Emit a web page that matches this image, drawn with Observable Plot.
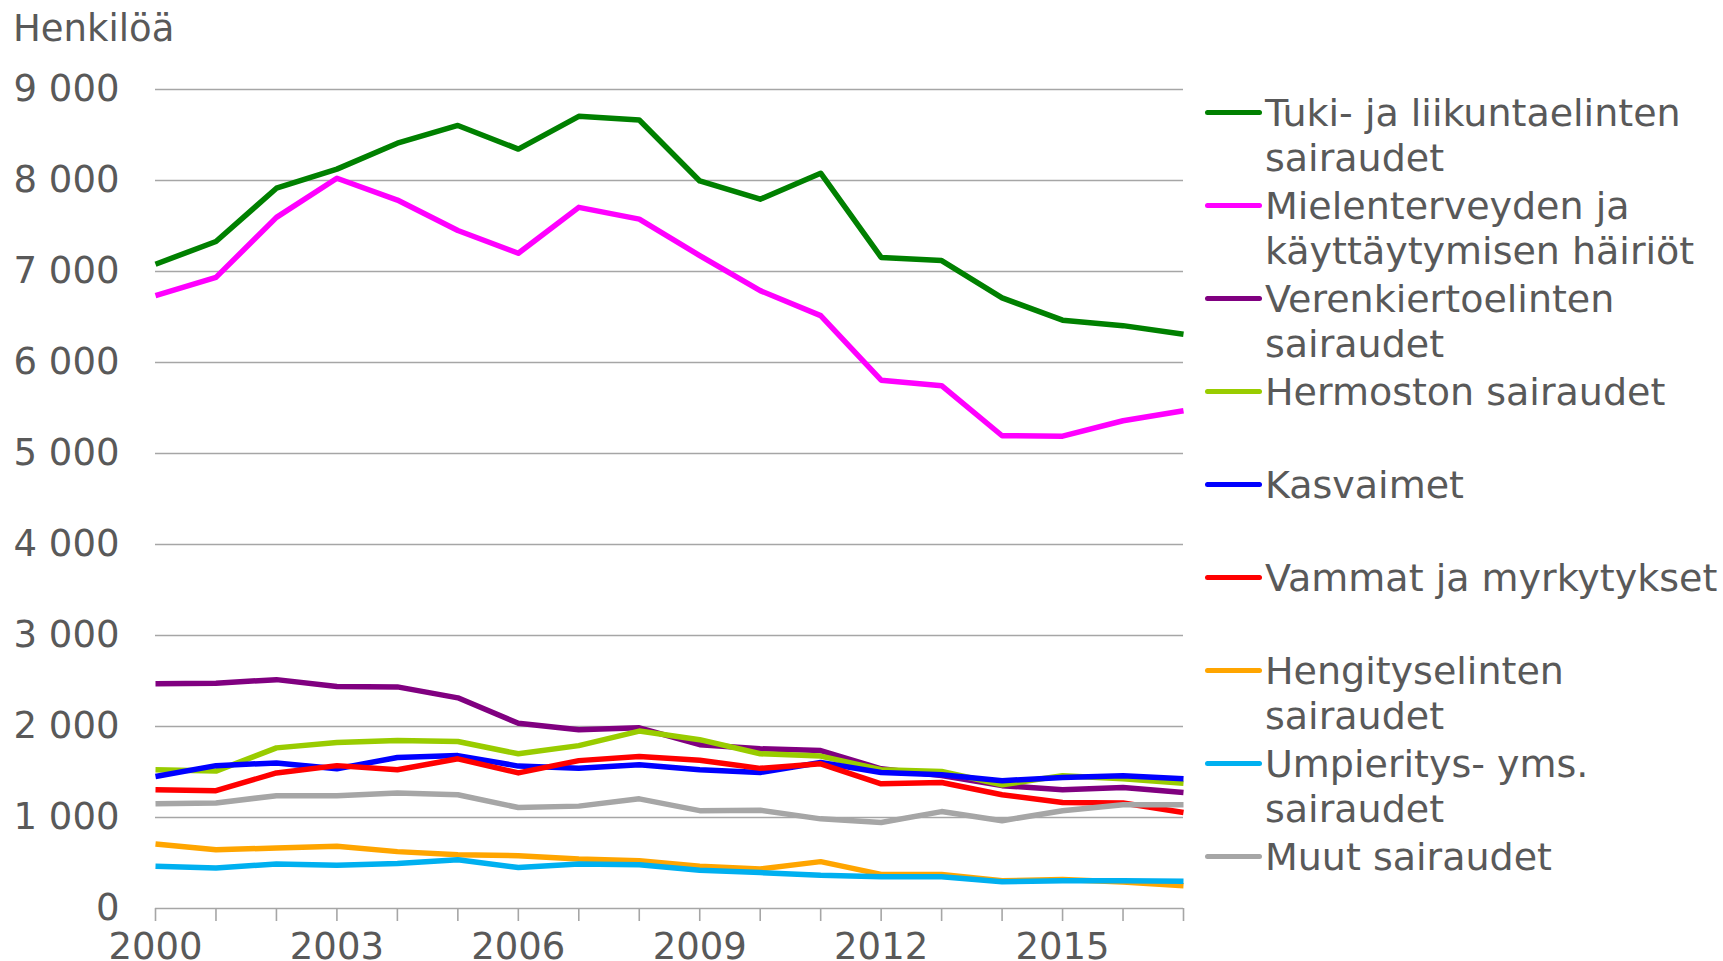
<!DOCTYPE html>
<html>
<head>
<meta charset="utf-8">
<script src="https://cdn.jsdelivr.net/npm/d3@7"></script>
<script src="https://cdn.jsdelivr.net/npm/@observablehq/plot@0.6"></script>
<style>
  html, body { margin: 0; padding: 0; background: #fff; }
  #wrap { position: relative; width: 1723px; height: 961px; overflow: hidden;
          font-family: "DejaVu Sans", Verdana, sans-serif; color: #595959; }
  #ylabel { position: absolute; left: 13px; top: 10px; font-size: 37px; line-height: 37px; white-space: nowrap; }
  #chart { position: absolute; left: 0; top: 0; }
  .item { position: absolute; left: 1205px; }
  .swatch { position: absolute; left: 0; width: 57px; height: 5.5px; border-radius: 2.75px; }
  .label { position: absolute; left: 60px; top: 0; font-size: 38px; line-height: 45px; white-space: pre; }
</style>
</head>
<body>
<div id="wrap">
  <div id="ylabel">Henkilöä</div>
  <div id="chart"></div>
  <div id="legend"></div>
</div>
<script>
// ---- data ----
const years = [2000, 2001, 2002, 2003, 2004, 2005, 2006, 2007, 2008, 2009, 2010, 2011, 2012, 2013, 2014, 2015, 2016, 2017];

const categories = [
  "Tuki- ja liikuntaelinten sairaudet",
  "Mielenterveyden ja käyttäytymisen häiriöt",
  "Verenkiertoelinten sairaudet",
  "Hermoston sairaudet",
  "Kasvaimet",
  "Vammat ja myrkytykset",
  "Hengityselinten sairaudet",
  "Umpieritys- yms. sairaudet",
  "Muut sairaudet"
];
const legendLabels = [
  "Tuki- ja liikuntaelinten\nsairaudet",
  "Mielenterveyden ja\nkäyttäytymisen häiriöt",
  "Verenkiertoelinten\nsairaudet",
  "Hermoston sairaudet",
  "Kasvaimet",
  "Vammat ja myrkytykset",
  "Hengityselinten\nsairaudet",
  "Umpieritys- yms.\nsairaudet",
  "Muut sairaudet"
];
const colors = ["#008000", "#FF00FF", "#800080", "#99CC00", "#0000FF", "#FF0000", "#FFA500", "#00B0F0", "#A6A6A6"];

const tuki     = [7080, 7330, 7915, 8125, 8410, 8605, 8345, 8705, 8665, 7995, 7795, 8080, 7155, 7120, 6710, 6465, 6405, 6310];
const mielen   = [6735, 6935, 7595, 8025, 7785, 7450, 7200, 7705, 7575, 7175, 6790, 6515, 5805, 5745, 5195, 5190, 5360, 5470];
const veren    = [2470, 2475, 2515, 2440, 2435, 2315, 2035, 1965, 1985, 1800, 1755, 1735, 1535, 1460, 1350, 1305, 1330, 1275];
const hermo    = [1525, 1510, 1765, 1825, 1845, 1835, 1700, 1790, 1950, 1855, 1700, 1675, 1525, 1505, 1360, 1460, 1425, 1375];
const kasvaimet= [1450, 1570, 1600, 1535, 1660, 1680, 1565, 1540, 1580, 1525, 1495, 1605, 1495, 1470, 1405, 1440, 1460, 1425];
const vammat   = [1305, 1295, 1490, 1570, 1525, 1645, 1490, 1625, 1670, 1630, 1540, 1590, 1370, 1385, 1250, 1165, 1160, 1055];
const hengitys = [710, 645, 665, 685, 625, 590, 580, 545, 525, 465, 435, 515, 375, 375, 305, 320, 290, 250];
const umpi     = [465, 445, 490, 475, 495, 535, 450, 490, 480, 420, 395, 365, 350, 350, 295, 305, 305, 300];
const muut     = [1150, 1160, 1240, 1240, 1270, 1250, 1110, 1125, 1205, 1075, 1080, 985, 945, 1065, 965, 1075, 1140, 1140];

const yTicks = [0, 1000, 2000, 3000, 4000, 5000, 6000, 7000, 8000, 9000];

// ---- build table ----
const seriesValues = [tuki, mielen, veren, hermo, kasvaimet, vammat, hengitys, umpi, muut];
const data = [];
seriesValues.forEach((vals, i) => {
  vals.forEach((v, j) => data.push({series: categories[i], year: years[j], value: v}));
});

const fmtY = d => d3.format(",")(d).replace(/,/g, " ");
const fmtX = d => ((d - 2000) % 3 === 0 ? String(d) : "");

const chart = Plot.plot({
  width: 1200,
  height: 961,
  marginLeft: 155,
  marginRight: 17,
  marginTop: 89,
  marginBottom: 53,
  style: {fontFamily: '"DejaVu Sans", Verdana, sans-serif', fontSize: "37px", color: "#595959", background: "transparent", overflow: "visible"},
  x: {type: "linear", domain: [2000, 2017]},
  y: {domain: [0, 9000]},
  color: {domain: categories, range: colors},
  marks: [
    Plot.ruleY(yTicks, {stroke: "#A6A6A6", strokeWidth: 1.6}),
    Plot.axisY({ticks: yTicks, tickSize: 0, tickPadding: 36, tickFormat: fmtY, label: null}),
    Plot.axisX({ticks: years, tickSize: 13, tickPadding: 11, tickFormat: fmtX, stroke: "#A6A6A6", strokeWidth: 1.6, label: null}),
    Plot.line(data, {x: "year", y: "value", z: "series", stroke: "series", strokeWidth: 5.5, strokeLinejoin: "round", strokeLinecap: "butt"})
  ]
});
document.getElementById("chart").appendChild(chart);

// ---- legend (HTML, right side) ----
const legend = document.getElementById("legend");
const firstTop = 90.8, step = 93;
categories.forEach((c, i) => {
  const item = document.createElement("div");
  item.className = "item";
  item.style.top = (firstTop + i * step) + "px";
  const sw = document.createElement("div");
  sw.className = "swatch";
  sw.style.background = colors[i];
  sw.style.top = (21.9 - 2.75) + "px";
  const lab = document.createElement("div");
  lab.className = "label";
  lab.textContent = legendLabels[i];
  item.appendChild(sw);
  item.appendChild(lab);
  legend.appendChild(item);
});
</script>
</body>
</html>
